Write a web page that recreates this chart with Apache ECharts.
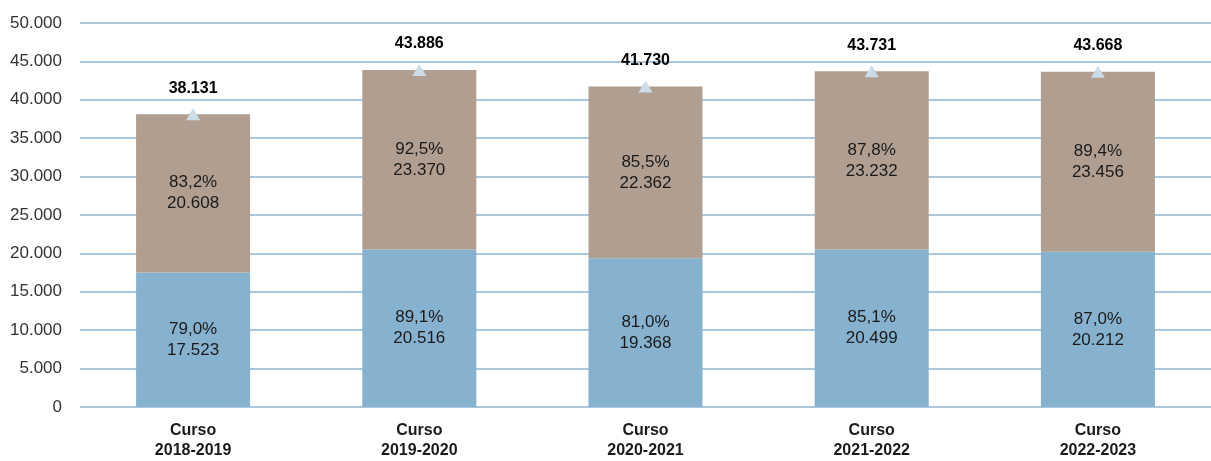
<!DOCTYPE html>
<html>
<head>
<meta charset="utf-8">
<script src="https://cdn.jsdelivr.net/npm/echarts@6/dist/echarts.min.js"></script>
<style>
  html, body { margin: 0; padding: 0; background: #fff; }
  #chart { width: 1211px; height: 461px; }
</style>
</head>
<body>
<div id="chart"></div>
<script>
// datos del gráfico
var cursos = ['Curso\n2018-2019', 'Curso\n2019-2020', 'Curso\n2020-2021', 'Curso\n2021-2022', 'Curso\n2022-2023'];
var valoresAzul = [17523, 20516, 19368, 20499, 20212];
var pctAzul = ['79,0%', '89,1%', '81,0%', '85,1%', '87,0%'];
var valoresMarron = [20608, 23370, 22362, 23232, 23456];
var pctMarron = ['83,2%', '92,5%', '85,5%', '87,8%', '89,4%'];
var totales = [38131, 43886, 41730, 43731, 43668];

var fuente = 'Liberation Sans, Arial, sans-serif';

function miles(v) {
    return String(v).replace(/\B(?=(\d{3})+(?!\d))/g, '.');
}

var chart = echarts.init(document.getElementById('chart'));
var option = {
    animation: false,
    grid: {
        left: 80,
        top: 23,
        bottom: 53,
        width: 1135
    },
    xAxis: {
        type: 'category',
        data: cursos,
        axisLine: { show: false },
        axisTick: { show: false },
        axisLabel: {
            color: '#1a1a1a',
            fontFamily: fuente,
            fontSize: 16,
            fontWeight: 'bold',
            lineHeight: 20,
            margin: 14
        }
    },
    yAxis: {
        type: 'value',
        min: 0,
        max: 50000,
        interval: 5000,
        axisLine: { show: false },
        axisTick: { show: false },
        axisLabel: {
            color: '#333',
            fontFamily: fuente,
            fontSize: 17,
            margin: 18,
            formatter: function (v) { return miles(v); }
        },
        splitLine: {
            lineStyle: { color: '#8db6d6', width: 1.5 }
        }
    },
    series: [
        {
            name: 'azul',
            type: 'bar',
            stack: 'total',
            barWidth: 114,
            data: valoresAzul,
            itemStyle: { color: '#86b2cf' },
            label: {
                show: true,
                position: 'inside',
                color: '#1a1a1a',
                fontFamily: fuente,
                fontSize: 17,
                lineHeight: 21,
                formatter: function (p) { return pctAzul[p.dataIndex] + '\n' + miles(p.value); }
            }
        },
        {
            name: 'marron',
            type: 'bar',
            stack: 'total',
            barWidth: 114,
            data: valoresMarron,
            itemStyle: { color: '#b09e90' },
            label: {
                show: true,
                position: 'inside',
                color: '#1a1a1a',
                fontFamily: fuente,
                fontSize: 17,
                lineHeight: 21,
                formatter: function (p) { return pctMarron[p.dataIndex] + '\n' + miles(p.value); }
            }
        },
        {
            name: 'total',
            type: 'scatter',
            data: totales,
            symbol: 'triangle',
            symbolSize: [14, 12],
            itemStyle: { color: '#c9dce8', opacity: 1 },
            z: 5,
            label: {
                show: true,
                position: 'top',
                distance: 12,
                color: '#000',
                fontFamily: fuente,
                fontSize: 16,
                fontWeight: 'bold',
                formatter: function (p) { return miles(p.value); }
            }
        }
    ]
};
chart.setOption(option);
</script>
</body>
</html>
